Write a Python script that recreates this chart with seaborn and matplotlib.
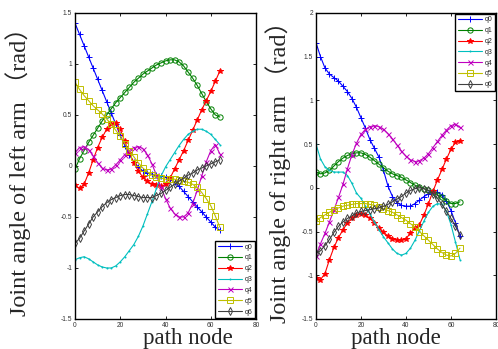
import matplotlib
matplotlib.use('Agg')
import numpy as np
import pandas as pd
import matplotlib.pyplot as plt
from matplotlib.ticker import FuncFormatter
import seaborn as sns

# path nodes (every second node)
nodes = list(range(0, 65, 2))
joints = ['q0', 'q1', 'q2', 'q3', 'q4', 'q5', 'q6']

# left arm joint angles (rad)
left_q0 = [1.40, 1.29, 1.18, 1.07, 0.96, 0.85, 0.74, 0.63, 0.52, 0.41, 0.30, 0.20, 0.11,
           0.04, -0.01, -0.05, -0.07, -0.08, -0.09, -0.10, -0.11, -0.13, -0.16, -0.20,
           -0.25, -0.30, -0.35, -0.40, -0.45, -0.50, -0.55, -0.60, -0.63]
left_q1 = [-0.03, 0.07, 0.15, 0.23, 0.30, 0.37, 0.44, 0.50, 0.56, 0.62, 0.67, 0.72, 0.77,
           0.82, 0.86, 0.90, 0.93, 0.96, 0.99, 1.01, 1.03, 1.04, 1.04, 1.02, 0.98, 0.92,
           0.86, 0.79, 0.71, 0.63, 0.56, 0.50, 0.48]
left_q2 = [-0.19, -0.22, -0.18, -0.07, 0.06, 0.18, 0.28, 0.36, 0.41, 0.42, 0.36, 0.24,
           0.13, 0.03, -0.05, -0.11, -0.15, -0.18, -0.19, -0.20, -0.18, -0.12, -0.03,
           0.06, 0.15, 0.25, 0.35, 0.45, 0.55, 0.64, 0.73, 0.83, 0.93]
left_q3 = [-0.92, -0.90, -0.89, -0.91, -0.94, -0.97, -0.99, -1.00, -1.00, -0.98, -0.94,
           -0.89, -0.83, -0.77, -0.69, -0.59, -0.47, -0.35, -0.22, -0.10, -0.01, 0.06,
           0.13, 0.20, 0.26, 0.31, 0.34, 0.36, 0.36, 0.34, 0.31, 0.26, 0.21]
left_q4 = [0.13, 0.18, 0.19, 0.16, 0.10, 0.03, -0.02, -0.04, -0.03, 0.01, 0.06, 0.11,
           0.15, 0.18, 0.19, 0.17, 0.11, 0.02, -0.09, -0.21, -0.32, -0.41, -0.47, -0.50,
           -0.50, -0.46, -0.37, -0.24, -0.10, 0.04, 0.15, 0.21, 0.12]
left_q5 = [0.82, 0.75, 0.69, 0.64, 0.59, 0.55, 0.51, 0.46, 0.41, 0.35, 0.29, 0.22, 0.15,
           0.09, 0.03, -0.02, -0.06, -0.09, -0.11, -0.12, -0.13, -0.13, -0.13, -0.14,
           -0.15, -0.16, -0.18, -0.21, -0.26, -0.32, -0.39, -0.49, -0.60]
left_q6 = [-0.76, -0.71, -0.64, -0.57, -0.50, -0.45, -0.40, -0.36, -0.33, -0.31, -0.29,
           -0.28, -0.28, -0.29, -0.30, -0.31, -0.31, -0.31, -0.29, -0.27, -0.24, -0.21,
           -0.18, -0.15, -0.12, -0.09, -0.07, -0.04, -0.02, 0.00, 0.02, 0.04, 0.06]

# right arm joint angles (rad)
right_q0 = [1.66, 1.50, 1.37, 1.30, 1.26, 1.22, 1.16, 1.10, 1.02, 0.92, 0.80, 0.68, 0.55,
            0.45, 0.35, 0.20, 0.02, -0.10, -0.17, -0.20, -0.21, -0.21, -0.18, -0.14,
            -0.10, -0.07, -0.05, -0.05, -0.08, -0.15, -0.26, -0.40, -0.55]
right_q1 = [0.18, 0.16, 0.17, 0.20, 0.25, 0.30, 0.34, 0.37, 0.39, 0.40, 0.40, 0.38, 0.35,
            0.31, 0.27, 0.23, 0.19, 0.16, 0.14, 0.12, 0.09, 0.06, 0.03, 0.01, -0.01,
            -0.03, -0.05, -0.08, -0.11, -0.15, -0.18, -0.18, -0.16]
right_q2 = [-1.03, -1.05, -0.98, -0.82, -0.68, -0.57, -0.48, -0.40, -0.35, -0.31, -0.30,
            -0.31, -0.35, -0.40, -0.46, -0.51, -0.55, -0.58, -0.60, -0.60, -0.58, -0.52,
            -0.46, -0.42, -0.31, -0.18, -0.04, 0.09, 0.21, 0.33, 0.44, 0.52, 0.53]
right_q3 = [0.50, 0.33, 0.24, 0.20, 0.18, 0.18, 0.18, 0.14, 0.05, -0.06, -0.12, -0.21,
            -0.30, -0.39, -0.48, -0.56, -0.63, -0.70, -0.75, -0.77, -0.75, -0.69, -0.60,
            -0.49, -0.38, -0.28, -0.21, -0.18, -0.19, -0.27, -0.42, -0.62, -0.82]
right_q4 = [-0.78, -0.64, -0.52, -0.39, -0.25, -0.11, 0.04, 0.22, 0.38, 0.51, 0.61, 0.67,
            0.70, 0.71, 0.70, 0.67, 0.62, 0.56, 0.49, 0.42, 0.36, 0.32, 0.30, 0.31, 0.34,
            0.39, 0.46, 0.53, 0.60, 0.66, 0.71, 0.73, 0.69]
right_q5 = [-0.38, -0.34, -0.31, -0.28, -0.25, -0.23, -0.21, -0.20, -0.19, -0.18, -0.18,
            -0.18, -0.19, -0.20, -0.22, -0.24, -0.26, -0.28, -0.31, -0.34, -0.37, -0.41,
            -0.45, -0.50, -0.55, -0.60, -0.65, -0.70, -0.74, -0.77, -0.78, -0.75, -0.69]
right_q6 = [-0.75, -0.72, -0.66, -0.59, -0.51, -0.44, -0.39, -0.35, -0.32, -0.29, -0.27,
            -0.26, -0.25, -0.24, -0.23, -0.21, -0.19, -0.16, -0.13, -0.10, -0.06, -0.03,
            -0.01, 0.00, -0.01, -0.03, -0.07, -0.12, -0.19, -0.27, -0.35, -0.44, -0.54]

left_vals = [left_q0, left_q1, left_q2, left_q3, left_q4, left_q5, left_q6]
right_vals = [right_q0, right_q1, right_q2, right_q3, right_q4, right_q5, right_q6]

xticks = [0, 20, 40, 60, 80]
left_yticks = [-1.5, -1, -0.5, 0, 0.5, 1, 1.5]
right_yticks = [-1.5, -1, -0.5, 0, 0.5, 1, 1.5, 2]

# matlab-ish line colours and markers
palette = {'q0': '#0000FF', 'q1': '#008000', 'q2': '#FF0000', 'q3': '#00BFBF',
           'q4': '#BF00BF', 'q5': '#BFBF00', 'q6': '#404040'}
mk = {'q0': '+', 'q1': 'o', 'q2': '*', 'q3': '.', 'q4': 'x', 'q5': 's', 'q6': 'd'}
ms = {'q0': 4.5, 'q1': 3.8, 'q2': 4, 'q3': 1.5, 'q4': 3.6, 'q5': 4.2, 'q6': 3.8}


def make_df(vals):
    rows = []
    for j, v in zip(joints, vals):
        rows.append(pd.DataFrame({'node': nodes, 'angle': v, 'joint': j}))
    return pd.concat(rows, ignore_index=True)


sns.set_style('ticks')
plt.rcParams['font.family'] = ['Liberation Sans', 'DejaVu Sans']
plt.rcParams['xtick.direction'] = 'in'
plt.rcParams['ytick.direction'] = 'in'
plt.rcParams['xtick.top'] = True
plt.rcParams['ytick.right'] = True

fig = plt.figure(figsize=(4.98, 3.49), dpi=100)
ax_l = fig.add_axes([0.1506, 0.086, 0.3635, 0.877])
ax_r = fig.add_axes([0.6345, 0.086, 0.3614, 0.877])

label_font = ['Liberation Serif', 'Noto Sans CJK SC', 'DejaVu Serif']

setups = [
    (ax_l, left_vals, left_yticks, 'Joint angle of left arm （rad）', 'lower right', -0.245, 0.624),
    (ax_r, right_vals, right_yticks, 'Joint angle of right arm （rad）', 'upper right', -0.14, 0.444),
]

for ax, vals, yt, ylab, loc, ylx, xlx in setups:
    df = make_df(vals)
    for j in joints:
        d = df.loc[df['joint'] == j]
        sns.lineplot(ax=ax, data=d, x='node', y='angle', color=palette[j], marker=mk[j],
                     markersize=ms[j], markerfacecolor='none' if mk[j] in 'osd' else palette[j],
                     markeredgecolor=palette[j], markeredgewidth=0.7, linewidth=0.8, label=j)
    ax.set_xlim(0, 80)
    ax.set_ylim(yt[0], yt[-1])
    ax.set_xticks(xticks)
    ax.set_yticks(yt)
    ax.xaxis.set_major_formatter(FuncFormatter(lambda v, p: '{:g}'.format(v)))
    ax.yaxis.set_major_formatter(FuncFormatter(lambda v, p: '{:g}'.format(v)))
    ax.tick_params(labelsize=4.8, length=2.5, width=0.6, colors='black', labelcolor='#333333', pad=2)
    for s in ax.spines.values():
        s.set_linewidth(1.0)
        s.set_color('black')
    ax.set_ylabel(ylab, family=label_font, fontsize=17.5)
    ax.yaxis.set_label_coords(ylx, 0.5)
    ax.set_xlabel('path node', family=label_font, fontsize=16.5)
    ax.xaxis.set_label_coords(xlx, -0.028)
    leg = ax.legend(loc=loc, fontsize=5, handlelength=3.5, frameon=True, fancybox=False,
                    edgecolor='black', borderaxespad=0.1, labelspacing=0.55,
                    handletextpad=0.4, borderpad=0.4)
    leg.get_frame().set_linewidth(1.0)
    leg.get_frame().set_alpha(1)

fig.savefig('out.png', dpi=100)
